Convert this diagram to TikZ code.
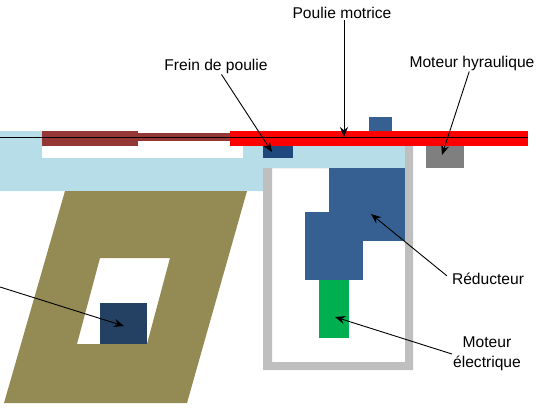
\documentclass[tikz,border=0pt]{standalone}
\usepackage{fontspec}
\setmainfont{Liberation Sans}
\usepackage{xcolor}
\usetikzlibrary{arrows.meta,positioning}
\definecolor{ltblue}{HTML}{B7DDE8}
\definecolor{brownred}{HTML}{953735}
\definecolor{midblue}{HTML}{366092}
\definecolor{navyblue}{HTML}{244062}
\definecolor{frameblue}{HTML}{1F497D}
\definecolor{olive}{HTML}{948A54}
\definecolor{framegray}{HTML}{BFBFBF}
\definecolor{motorgray}{HTML}{7F7F7F}
\definecolor{motorgreen}{HTML}{00B050}
\tikzset{
  lbl/.style={font=\fontsize{15.6}{20}\selectfont, inner sep=1pt, align=center},
  callout/.style={black, line width=0.9pt, -{Stealth[length=10pt,width=8pt]}},
  axisline/.style={black, line width=0.9pt}
}
\begin{document}
\begin{tikzpicture}[x=1pt, y=-1pt]
\useasboundingbox (0,0) rectangle (543,413);
% support and leg, pixel coordinates of the plan
\fill[ltblue] (0,131) -- (42,131) -- (42,158) -- (243,158) -- (243,146) -- (405,146) -- (405,168) -- (263,168) -- (263,191) -- (0,191) -- cycle;
\fill[olive, even odd rule] (65,191) -- (247,191) -- (187,403) -- (4,403) -- cycle (100,258) -- (170,258) -- (147,344) -- (77,344) -- cycle;
% casing
\fill[framegray, even odd rule] (263,168) -- (405,168) -- (405,146) -- (413,146) -- (413,370) -- (263,370) -- cycle (272,168) rectangle (405,362);
% blocks: x1/y1/x2/y2/colour
\foreach \xa/\ya/\xb/\yb/\col in {42/131/138/146/brownred, 138/133/230/141/brownred, 230/131/528/146/red,
    369/117/392/131/midblue, 263/146/293/158/frameblue, 426/146/464/168/motorgray,
    329/168/405/241/midblue, 305/212/363/280/midblue, 319/280/349/338/motorgreen, 100/303/147/344/navyblue}
  {\fill[\col] (\xa,\ya) rectangle (\xb,\yb);}
% labels
\node[lbl] (poulie) at (342,13) {Poulie motrice};
\node[lbl] (frein) at (216,66) {Frein de poulie};
\node[lbl] (hydro) at (472,63) {Moteur hyraulique};
\node[lbl] (reducteur) at (488,279) {Réducteur};
\node[lbl] (electrique) at (487,354) {Moteur\\électrique};
% free ends of the connectors
\coordinate (axisleft) at (0,137);
\coordinate (axisright) at (528,137);
\coordinate (legstart) at (0,287);
\coordinate (poulietip) at (344,137);
\coordinate (freintip) at (272,152);
\coordinate (hydrotip) at (442,155);
\coordinate (reductip) at (371,214);
\coordinate (electip) at (335,317);
\coordinate (legtip) at (124,326);
\draw[axisline] (axisleft) -- (axisright);
\draw[callout] (poulie.south -| poulietip) -- (poulietip);
\draw[callout] (frein) -- (freintip);
\draw[callout] (hydro) -- (hydrotip);
\draw[callout, shorten <=5pt] (reducteur.west) -- (reductip);
\draw[callout] (electrique.west) -- (electip);
\draw[callout] (legstart) -- (legtip);
\end{tikzpicture}
\end{document}
